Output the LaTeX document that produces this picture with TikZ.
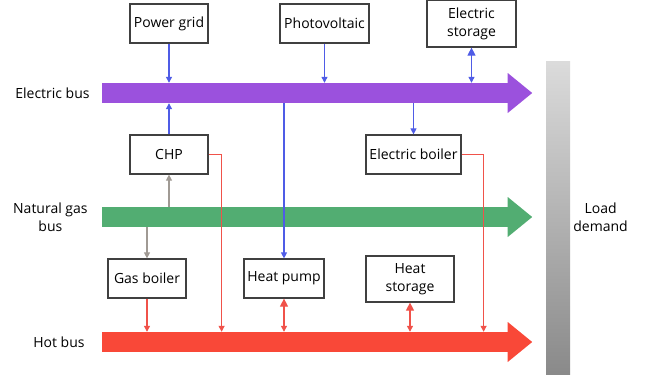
\documentclass[tikz,border=0pt]{standalone}
\usepackage{fontspec}
\setmainfont{Open Sans}
\usetikzlibrary{
    arrows.meta,
    positioning,
    calc
}
\definecolor{elecbus}{HTML}{9B51DD}
\definecolor{gasbus}{HTML}{52AD72}
\definecolor{hotbus}{HTML}{F94838}
\definecolor{elecline}{HTML}{4F5CE6}
\definecolor{heatline}{HTML}{F0524A}
\definecolor{gasline}{HTML}{A09A94}
\definecolor{boxline}{HTML}{404040}
\tikzset{
    % --- Conversion / storage unit ---
    unit/.style = {
        rectangle, draw=boxline, line width=1.2pt, fill=white,
        minimum height=39pt, inner sep=2pt, align=center,
        font=\fontsize{14}{18}\selectfont
    },
    % --- Energy bus (shaft of the big arrow) ---
    busbar/.style = {
        rectangle, minimum width=406pt, minimum height=20pt,
        inner sep=0pt
    },
    % --- Bus name on the left ---
    bus label/.style = {
        font=\fontsize{14}{18}\selectfont, align=center, inner sep=0pt
    },
    % --- Connector arrows ---
    e arrow/.style = {
        -{Triangle[length=6pt,width=6pt]}, elecline, line width=1.1pt
    },
    h arrow/.style = {
        -{Triangle[length=6pt,width=6pt]}, heatline, line width=1.1pt
    },
    g arrow/.style = {
        -{Triangle[length=6pt,width=6pt]}, gasline, line width=1.1pt
    },
    e both/.style = {
        {Triangle[length=8pt,width=8pt]}-{Triangle[length=6pt,width=6pt]},
        elecline, line width=1.1pt
    },
    h both/.style = {
        {Triangle[length=8pt,width=8pt]}-{Triangle[length=6pt,width=6pt]},
        heatline, line width=1.1pt
    }
}

\begin{document}
\begin{tikzpicture}[x=1pt, y=-1pt]

\useasboundingbox (0,0) rectangle (648,381);

% ---------------------------------------------------------
% Buses
% ---------------------------------------------------------
\node[busbar, fill=elecbus] (ebus) at (305,93) {};
\node[busbar, fill=gasbus] (gbus) at (305,217) {};
\node[busbar, fill=hotbus] (hbus) at (305,342) {};

\foreach \b/\c in {ebus/elecbus, gbus/gasbus, hbus/hotbus} {
    \fill[\c] ($(\b.east)+(-0.5,-20)$) -- ($(\b.east)+(24,0)$)
        -- ($(\b.east)+(-0.5,20)$) -- cycle;
}

\node[bus label, left=12pt of ebus] {Electric bus};
\node[bus label, left=14pt of gbus] {Natural gas\\bus};
\node[bus label, left=17pt of hbus] {Hot bus};

% Load demand
\node[rectangle, minimum width=24pt, minimum height=313pt, inner sep=0pt,
    top color=black!14, bottom color=black!46] (load) at (558,217.5) {};
\node[bus label, right=3pt of load] {Load\\demand};

% ---------------------------------------------------------
% Units
% ---------------------------------------------------------
\node[unit, minimum width=78pt] (pg) at (169,23.5) {Power grid};
\node[unit, minimum width=89pt] (pv) at (324.5,23.5) {Photovoltaic};
\node[unit, minimum width=89pt, minimum height=47pt] (es) at (471.5,23.5) {Electric\\storage};
\node[unit, minimum width=78pt] (chp) at (169,154.5) {CHP};
\node[unit, minimum width=95pt] (eb) at (413.5,154.5) {Electric boiler};
\node[unit, minimum width=78pt] (gb) at (147,278.5) {Gas boiler};
\node[unit, minimum width=80pt] (hp) at (284,278.5) {Heat pump};
\node[unit, minimum width=88pt, minimum height=46pt] (hs) at (410,279) {Heat\\storage};

% ---------------------------------------------------------
% Electricity
% ---------------------------------------------------------
\draw[e arrow] (pg) -- (pg |- ebus.north);
\draw[e arrow] (pv) -- (pv |- ebus.north);
\draw[e both] (es) -- (es |- ebus.north);
\draw[e arrow] (chp) -- (chp |- ebus.south);
\draw[e arrow] (ebus.south -| eb) -- (eb);
\draw[e arrow] (ebus.south -| hp) -- (hp);

% ---------------------------------------------------------
% Natural gas
% ---------------------------------------------------------
\draw[g arrow] (gbus.north -| chp) -- (chp);
\draw[g arrow] (gbus.south -| gb) -- (gb);

% ---------------------------------------------------------
% Heat
% ---------------------------------------------------------
\coordinate (chpout) at ($(chp.east)+(13,0)$);
\coordinate (ebout) at ($(eb.east)+(22,0)$);
\draw[h arrow] (chp.east) -- (chpout) -- (chpout |- hbus.north);
\draw[h arrow] (eb.east) -- (ebout) -- (ebout |- hbus.north);
\draw[h arrow] (gb) -- (gb |- hbus.north);
\draw[h both] (hp) -- (hp |- hbus.north);
\draw[h both] (hs) -- (hs |- hbus.north);

\end{tikzpicture}
\end{document}
